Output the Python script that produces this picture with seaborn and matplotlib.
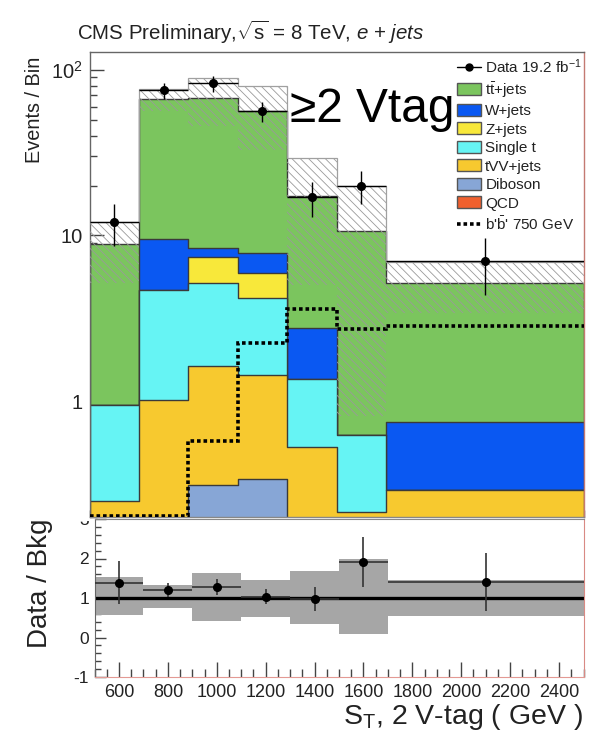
import numpy as np
import matplotlib
matplotlib.use("Agg")
import matplotlib.pyplot as plt
from matplotlib.lines import Line2D
from matplotlib.patches import Patch
from matplotlib.transforms import Bbox, TransformedBbox
from matplotlib.ticker import FixedLocator, FixedFormatter, MultipleLocator, LogLocator, NullFormatter
import seaborn as sns

# ---------------- data ----------------
edges = [500, 700, 900, 1100, 1300, 1500, 1700, 2500]
centers = [600, 800, 1000, 1200, 1400, 1600, 2100]

# stacked backgrounds (bottom -> top)
qcd = [0, 0, 0, 0, 0, 0, 0]
diboson = [0, 0, 0.31, 0.34, 0, 0, 0]
tvv_jets = [0.25, 1.01, 1.31, 1.10, 0.53, 0.215, 0.29]
single_t = [0.70, 3.65, 3.57, 2.73, 0.84, 0.41, 0]
z_jets = [0, 0, 2.21, 1.79, 0, 0, 0]
w_jets = [0, 4.8, 1.03, 1.84, 1.38, 0, 0.46]
ttbar_jets = [7.9, 57.1, 59.2, 48.3, 14.6, 10.0, 4.39]

# background uncertainty band (top panel)
unc_hi = [12.0, 76.6, 89.0, 79.4, 29.5, 19.8, 6.9]
unc_lo = [5.2, 56.0, 46.0, 33.0, 5.0, 0.81, 3.4]

# data
data = [12, 75, 83, 56, 17, 20, 7]
data_err = [3.4, 8.7, 9.1, 7.5, 4.1, 4.5, 2.6]

# signal b' 750 GeV
bprime = [0, 0, 0.576, 2.23, 3.58, 2.74, 2.84]

# ratio panel
ratio = [1.39, 1.20, 1.27, 1.03, 0.98, 1.92, 1.41]
ratio_err = [0.55, 0.17, 0.20, 0.19, 0.30, 0.63, 0.74]
ratio_band_hi = [1.54, 1.33, 1.64, 1.46, 1.69, 1.98, 1.46]
ratio_band_lo = [0.57, 0.74, 0.43, 0.53, 0.35, 0.08, 0.55]

labels = ["QCD", "Diboson", "tVV+jets", "Single t", "Z+jets", "W+jets", r"t$\bar{\rm t}$+jets"]
colors = ["#f0602e", "#87a6d6", "#f7c92f", "#66f4f4", "#f8e83a", "#0a58f2", "#7bc55e"]
stack = [qcd, diboson, tvv_jets, single_t, z_jets, w_jets, ttbar_jets]

# ---------------- style ----------------
sns.set_style("ticks")
plt.rcParams["font.family"] = ["Liberation Sans", "DejaVu Sans"]
plt.rcParams["mathtext.fontset"] = "custom"
plt.rcParams["mathtext.rm"] = "Liberation Sans"
plt.rcParams["mathtext.it"] = "Liberation Sans:italic"
plt.rcParams["mathtext.bf"] = "Liberation Sans:bold"
plt.rcParams["axes.unicode_minus"] = False
plt.rcParams["hatch.linewidth"] = 0.6

TXT = "#222222"
fig = plt.figure(figsize=(5.92, 7.32), dpi=100)
fig.patch.set_facecolor("white")

# ratio axes first so top panel overlaps it
ax2 = fig.add_axes([94.6 / 592, 1 - 677 / 732, (583.5 - 94.6) / 592, (677 - 519) / 732])
ax = fig.add_axes([89.5 / 592, 1 - 517 / 732, (583.5 - 89.5) / 592, (517 - 52) / 732])

# ---------------- top panel ----------------
cum = np.cumsum(np.array(stack, dtype=float), axis=0)
for i in range(len(stack) - 1, -1, -1):
    if np.all(np.array(stack[i]) == 0):
        continue
    sns.histplot(x=centers, weights=cum[i], bins=edges, element="step", fill=True,
                 color=colors[i], alpha=1, edgecolor="#3a3a3a", linewidth=1.0, ax=ax)

ax.set_yscale("log")
ylo, yhi = 0.2, 128
ax.set_ylim(ylo, yhi)
ax.set_xlim(500, 2500)

# uncertainty hatch
ax.stairs(unc_hi, edges, baseline=unc_lo, fill=True, facecolor="none",
          edgecolor="#9a9a9a", hatch="\\\\\\\\", linewidth=0, zorder=3)
ax.stairs(unc_hi, edges, baseline=None, color="#a0a0a0", linewidth=0.9, zorder=3)

# signal
ax.stairs(np.maximum(np.array(bprime, dtype=float), ylo * 1.015), edges, baseline=None,
          color="black", linestyle=(0, (1, 0.8)), linewidth=2.6, zorder=4)

# data
half = [(edges[i + 1] - edges[i]) / 2 for i in range(len(centers))]
ax.errorbar(centers, data, yerr=data_err, xerr=half, fmt="o", color="black",
            ms=5.5, lw=1.0, capsize=0, zorder=6)

ax.set_xlabel("")
ax.set_ylabel("")
ax.yaxis.set_major_locator(FixedLocator([1, 10, 100]))
ax.yaxis.set_major_formatter(FixedFormatter(["1", "10", r"10$^{2}$"]))
ax.yaxis.set_minor_locator(LogLocator(base=10, subs=np.arange(2, 10)))
ax.yaxis.set_minor_formatter(NullFormatter())
ax.xaxis.set_major_locator(FixedLocator(list(range(600, 2401, 200))))
ax.xaxis.set_minor_locator(MultipleLocator(50))
ax.tick_params(axis="x", labelbottom=False)
ax.tick_params(which="both", direction="in", color="#444444", width=1.0, top=False, right=False)
ax.tick_params(which="major", length=10)
ax.tick_params(which="minor", length=5)
ax.tick_params(axis="y", which="major", length=10, labelsize=14.5, labelcolor=TXT, pad=5)
for s in ["left", "top"]:
    ax.spines[s].set_color("#666666")
ax.spines["right"].set_color("#c47a72")
ax.spines["bottom"].set_color("#888888")
for s in ax.spines.values():
    s.set_linewidth(1.0)

# legend
handles = [Line2D([], [], color="black", marker="o", ms=5, lw=1.0)]
leg_labels = [r"Data 19.2 fb$^{-1}$"]
for i in range(len(stack) - 1, -1, -1):
    handles.append(Patch(facecolor=colors[i], edgecolor="#555555", linewidth=1.0))
    leg_labels.append(labels[i])
handles.append(Line2D([], [], color="black", linestyle=(0, (1, 0.8)), lw=2.6))
leg_labels.append(r"b'$\bar{\rm b}$' 750 GeV")
leg = ax.legend(handles, leg_labels, loc="upper left",
                bbox_to_anchor=(457 / 592, 1 - 57 / 732), bbox_transform=fig.transFigure,
                frameon=False, fontsize=11, handlelength=1.6, handleheight=0.85,
                handletextpad=0.25, labelspacing=0.27, borderpad=0, borderaxespad=0)
for t in leg.get_texts():
    t.set_color(TXT)

# ---------------- ratio panel ----------------
ax2.stairs(ratio_band_hi, edges, baseline=ratio_band_lo, fill=True, color="#a6a6a6",
           linewidth=0, zorder=1)
ax2.axhline(1, color="black", lw=2.4, zorder=2)
ax2.errorbar(centers, ratio, yerr=ratio_err, xerr=half, fmt="o", color="black",
             ecolor="#333333", ms=5.5, lw=1.2, capsize=0, zorder=5)
ax2.set_xlim(500, 2500)
ax2.set_ylim(-1, 3)
ax2.yaxis.set_major_locator(FixedLocator([-1, 0, 1, 2, 3]))
ax2.yaxis.set_major_formatter(FixedFormatter(["-1", "0", "1", "2", "3"]))
ax2.yaxis.set_minor_locator(MultipleLocator(0.2))
ax2.xaxis.set_major_locator(FixedLocator(list(range(600, 2401, 200))))
ax2.xaxis.set_major_formatter(FixedFormatter([str(v) for v in range(600, 2401, 200)]))
ax2.xaxis.set_minor_locator(MultipleLocator(50))
ax2.tick_params(which="both", direction="in", color="#444444", width=1.0, top=False, right=False)
ax2.tick_params(axis="x", which="major", length=11, labelsize=13, labelcolor=TXT, pad=5)
ax2.tick_params(axis="x", which="minor", length=5.5)
ax2.tick_params(axis="y", which="major", length=8, labelsize=12.5, labelcolor=TXT, pad=4)
ax2.tick_params(axis="y", which="minor", length=4.5)
ax2.spines["left"].set_color("#666666")
ax2.spines["top"].set_color("#888888")
ax2.spines["right"].set_color("#d98a84")
ax2.spines["bottom"].set_color("#e39a94")

# the top "3" label is mostly hidden under the upper pad
clip = TransformedBbox(Bbox([[0, 0], [1, 1 - 521 / 732]]), fig.transFigure)
fig.canvas.draw()
for t in ax2.get_yticklabels():
    if t.get_text() == "3":
        t.set_clip_on(True)
        t.set_clip_box(clip)

# ---------------- texts ----------------
fig.text(77 / 592, 1 - 40 / 732, r"CMS Preliminary,$\sqrt{\rm s}$ = 8 TeV, $e$ + $jets$",
         fontsize=14.8, color=TXT, ha="left", va="baseline")
fig.text(290 / 592, 1 - 122 / 732, "≥2 Vtag", fontsize=34.5, color="black",
         ha="left", va="baseline")
fig.text(35 / 592, 1 - 57 / 732, "Events / Bin", rotation=90, fontsize=14.3,
         color=TXT, ha="center", va="top")
fig.text(40 / 592, 1 - 583 / 732, "Data / Bkg", rotation=90, fontsize=20,
         color=TXT, ha="center", va="center")
fig.text(583 / 592, 1 - 724 / 732, r"S$_{\rm T}$, 2 V-tag ( GeV )", fontsize=20.5,
         color=TXT, ha="right", va="baseline")

fig.savefig("out.png", dpi=100, facecolor="white")
